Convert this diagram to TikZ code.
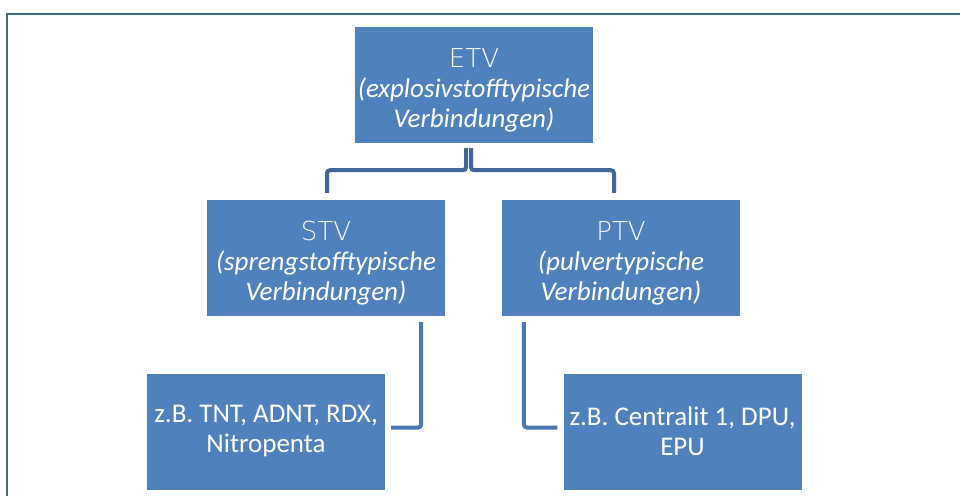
\documentclass[tikz,border=0pt]{standalone}
\usepackage{fontspec}
\setmainfont{Carlito}
\newfontfamily\headfont{DejaVu Sans ExtraLight}
\usetikzlibrary{calc}
\definecolor{boxblue}{HTML}{4F81BD}
\definecolor{connA}{HTML}{3F6798}
\definecolor{connB}{HTML}{4A77B2}
\definecolor{frame}{HTML}{3F6B80}
\newcommand{\headline}[1]{\rule{0pt}{29pt}{\headfont\fontsize{26}{30}\selectfont #1}}
\tikzset{
  box/.style={fill=boxblue, draw=none, minimum width=238pt, minimum height=116pt,
    text=white, align=center, inner sep=0pt, font=\fontsize{27}{30}\selectfont},
  connTop/.style={draw=connA, line width=4pt, rounded corners=3pt},
  connBot/.style={draw=connB, line width=4pt, rounded corners=3pt},
}
\begin{document}
\begin{tikzpicture}[x=1pt,y=-1pt]
\useasboundingbox (0,0) rectangle (960,495);
\fill[white] (0,0) rectangle (960,495);
\draw[frame, line width=2.2pt] (7,500) -- (7,14) -- (965,14);
\node[box] (etv) at (474,85) {\headline{ETV}\\\textit{(explosivstofftypische}\\\textit{Verbindungen)}};
\node[box] (stv) at (326,258) {\headline{STV}\\\textit{(sprengstofftypische}\\\textit{Verbindungen)}};
\node[box] (ptv) at (621,258) {\headline{PTV}\\\textit{(pulvertypische}\\\textit{Verbindungen)}};
\node[box] (ex1) at (266,431.5) {z.B. TNT, ADNT, RDX,\\Nitropenta};
\node[box] (ex2) at (682.5,431.5) {z.B. Centralit 1, DPU,\\EPU};
\draw[connTop] ([xshift=-8pt,yshift=-5pt]etv.south) -- ++(0,22) -| ([xshift=1pt,yshift=7pt]stv.north);
\draw[connTop] ([xshift=-3pt,yshift=-5pt]etv.south) -- ++(0,22) -| ([xshift=-7pt,yshift=7pt]ptv.north);
\draw[connBot] ([xshift=-24pt,yshift=-6pt]stv.south east) |- ([xshift=6pt,yshift=4pt]ex1.east);
\draw[connBot] ([xshift=22pt,yshift=-6pt]ptv.south west) |- ([xshift=-6pt,yshift=4pt]ex2.west);
\end{tikzpicture}
\end{document}
